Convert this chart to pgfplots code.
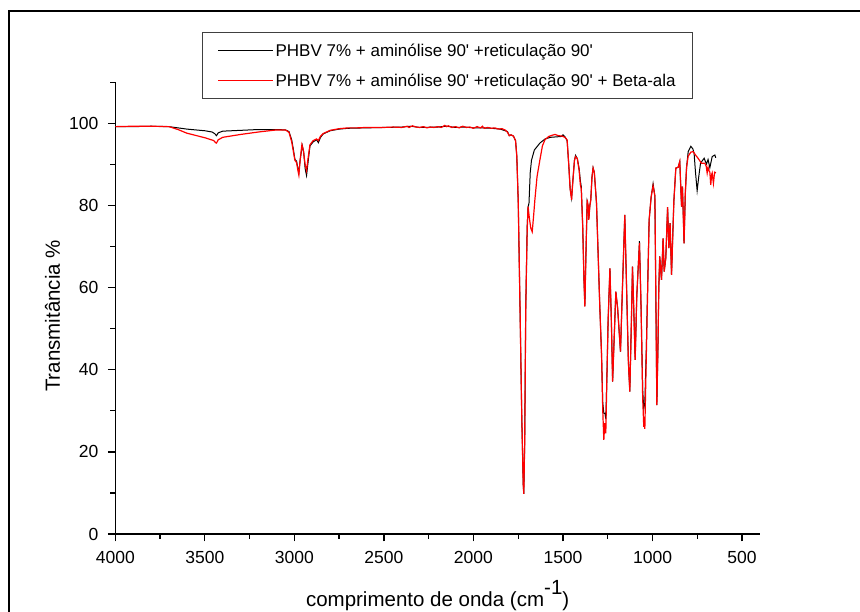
\documentclass[border=0pt]{standalone}
\usepackage{fontspec}
\setmainfont{Liberation Sans}
\usepackage{pgfplots}
\pgfplotsset{compat=1.18}
\usepackage{pgfplotstable}

\pgfplotstableread{
wn T
4000 99.2
3900 99.2
3800 99.3
3700 99.2
3600 98.6
3500 98.2
3460 97.9
3445 97.5
3435 97.0
3425 97.7
3400 98.1
3300 98.3
3200 98.5
3100 98.5
3050 98.4
3030 98.0
3015 96.0
3005 93.5
2997 91.2
2988 90.8
2980 89.0
2975 88.0
2968 91.0
2956 94.6
2948 93.0
2940 89.0
2932 87.3
2925 90.0
2913 94.5
2895 95.5
2876 96.0
2866 95.3
2855 96.5
2840 97.4
2800 98.2
2750 98.6
2700 98.8
2600 98.9
2500 99.0
2400 99.1
2350 99.3
2300 99.0
2200 99.1
2150 99.3
2100 99.0
2050 99.1
2000 98.9
1950 98.9
1900 98.8
1850 98.6
1810 98.0
1800 97.0
1790 97.2
1777 96.9
1765 95.8
1758 92.0
1750 81.0
1740 55.0
1730 28.0
1722 12.0
1719 9.8
1714 22.0
1708 55.0
1700 75.0
1695 79.7
1690 80.5
1683 88.0
1676 91.0
1660 93.5
1629 95.2
1600 96.2
1570 96.6
1540 96.7
1510 96.8
1500 97.2
1490 96.8
1477 95.8
1468 90.0
1460 84.0
1452 81.8
1445 86.0
1436 91.0
1430 92.2
1420 91.4
1410 89.0
1403 86.0
1398 84.6
1390 75.0
1383 62.0
1378 55.5
1372 68.0
1365 81.0
1360 80.0
1356 76.8
1350 80.0
1345 81.4
1338 87.0
1332 89.2
1325 88.0
1313 80.6
1304 68.4
1295 56.0
1285 44.0
1278 32.0
1272 29.4
1266 29.4
1261 28.0
1255 38.0
1248 52.1
1238 64.7
1230 52.0
1223 37.1
1214 48.0
1205 59.0
1195 55.0
1179 44.4
1168 60.0
1155 77.7
1145 60.0
1135 42.0
1127 34.7
1118 52.0
1112 65.1
1105 55.0
1097 42.4
1088 58.0
1073 71.3
1064 55.0
1055 35.0
1049 30.5
1043 32.0
1035 45.0
1025 65.0
1019 76.5
1008 82.0
997 85.3
987 82.3
982 60.0
976 31.4
970 45.0
965 60.0
960 67.6
950 61.9
941 72.0
935 63.9
926 67.2
916 79.6
909 69.6
902 75.7
894 63.1
881 81.0
870 89.1
857 89.3
848 90.7
838 79.7
833 84.6
824 70.8
817 83.0
810 89.3
801 93.1
786 94.4
775 93.8
768 92.7
760 88.0
751 83.6
742 87.0
732 90.3
712 91.5
699 90.1
690 91.2
680 89.2
667 91.9
652 92.3
647 91.6
}\blackdata

\pgfplotstableread{
wn T
4000 99.2
3900 99.3
3800 99.3
3700 99.2
3650 98.5
3600 97.6
3500 96.5
3450 95.8
3440 95.3
3435 95.2
3425 96.0
3400 96.6
3300 97.3
3200 97.9
3100 98.4
3050 98.4
3030 97.8
3015 95.5
3005 93.0
2997 91.0
2988 90.5
2980 88.5
2975 87.4
2968 91.0
2958 94.8
2950 93.5
2940 90.0
2932 88.5
2925 91.0
2913 94.8
2895 95.8
2876 96.2
2866 95.8
2855 96.8
2840 97.5
2800 98.3
2750 98.7
2700 98.9
2650 98.9
2600 99.0
2550 99.0
2500 99.0
2450 99.1
2400 99.0
2370 99.3
2360 99.0
2340 99.4
2320 99.1
2300 99.0
2280 99.2
2260 98.9
2240 99.1
2220 99.0
2200 99.2
2180 99.0
2160 99.5
2150 99.2
2140 99.4
2120 99.0
2100 99.2
2080 98.9
2060 99.3
2040 99.0
2020 99.1
2000 98.8
1980 99.2
1960 98.9
1950 99.3
1940 98.8
1920 99.0
1900 98.8
1880 98.9
1860 98.6
1840 98.7
1820 98.3
1810 97.8
1800 97.0
1790 97.2
1777 96.9
1765 95.8
1758 92.0
1750 81.0
1740 55.0
1730 28.0
1722 12.0
1719 9.8
1714 22.0
1708 55.0
1700 74.0
1695 79.7
1688 77.0
1680 74.5
1672 73.6
1665 77.0
1657 81.4
1645 87.0
1629 91.1
1615 94.5
1601 96.0
1580 96.8
1560 97.1
1545 97.3
1525 97.0
1505 96.9
1490 96.6
1477 96.0
1468 90.0
1460 84.0
1452 81.4
1445 86.0
1436 91.0
1430 91.9
1420 91.4
1410 88.5
1403 85.0
1398 84.0
1390 75.0
1383 62.0
1378 55.4
1372 68.0
1365 81.4
1360 80.0
1356 76.5
1350 80.0
1345 81.2
1338 87.0
1332 89.1
1325 88.0
1313 80.6
1304 68.4
1295 56.0
1285 44.0
1278 30.0
1272 22.9
1267 27.0
1261 24.5
1255 38.0
1248 52.1
1238 64.7
1230 52.0
1223 37.1
1214 48.0
1205 59.0
1195 55.0
1179 44.4
1168 60.0
1155 77.7
1145 60.0
1135 42.0
1127 34.7
1118 52.0
1112 65.1
1105 55.0
1097 42.4
1088 58.0
1073 70.8
1064 55.0
1055 33.0
1049 26.1
1046 28.0
1043 25.6
1035 43.0
1025 64.0
1019 76.5
1008 82.0
997 84.8
987 82.3
982 60.0
976 31.4
970 45.0
965 60.0
960 67.6
950 61.9
941 72.0
935 63.9
926 67.2
916 79.6
909 69.6
902 75.7
894 63.1
881 81.0
870 89.1
857 89.3
848 90.7
838 79.7
833 84.6
824 70.8
817 83.0
810 89.3
801 92.0
786 93.0
773 93.1
760 92.3
746 91.5
727 90.3
708 90.3
700 89.5
695 87.9
690 89.3
685 88.5
680 88.1
675 85.0
670 87.5
667 87.9
660 85.4
655 87.5
652 88.1
647 87.9
}\reddata

\begin{document}
\begin{tikzpicture}[x=1pt,y=1pt]
\useasboundingbox (0,0) rectangle (860,612);
\fill[white] (0,0) rectangle (860,612);
\draw[line width=1.4pt] (9,-20) -- (9,601) -- (900,601);
\begin{axis}[
  at={(115.3pt,78pt)}, anchor=south west,
  width=644.7pt, height=451.7pt, scale only axis,
  x dir=reverse, xmin=400, xmax=4000, ymin=0, ymax=110,
  axis x line*=bottom, axis y line*=left,
  axis line style={line width=1.3pt, -},
  xtick={500,1000,...,4000}, minor xtick={750,1250,...,3750},
  ytick={0,20,...,100}, minor ytick={10,30,...,110},
  tick align=outside, major tick length=7.5pt, minor tick length=5pt,
  every tick/.style={line width=1.3pt, black},
  tick label style={font=\fontsize{17.5}{17.5}\selectfont},
  xticklabel style={yshift=-6pt},
  yticklabel style={xshift=-6pt},
  /pgf/number format/assume math mode=true,
  /pgf/number format/1000 sep={},
  xlabel={comprimento de onda (cm\raisebox{0.6em}{-1})},
  ylabel={Transmitância \%},
  xlabel style={at={(axis description cs:0.5,-0.1616)}, anchor=base, font=\fontsize{20.5}{20.5}\selectfont},
  ylabel style={at={(axis description cs:-0.0858,0.4826)}, anchor=base, font=\fontsize{20.5}{20.5}\selectfont},
  legend style={at={(0.1345,1.111)}, anchor=north west, draw=black!75, line width=0.8pt,
    font=\fontsize{17}{17}\selectfont, inner xsep=15pt, inner ysep=9pt, row sep=12pt},
  legend cell align=left,
  legend image code/.code={\draw[#1, line width=1.2pt] (0pt,0pt) -- (52pt,0pt); \path (0pt,0pt) -- (55pt,0pt);},
]
\addplot[black, line width=1.0pt] table[x=wn,y=T] {\blackdata};
\addlegendentry{PHBV 7\% + aminólise 90\textquotesingle{} +reticulação 90\textquotesingle}
\addplot[red, line width=1.2pt] table[x=wn,y=T] {\reddata};
\addlegendentry{PHBV 7\% + aminólise 90\textquotesingle{} +reticulação 90\textquotesingle{} + Beta-ala}
\end{axis}
\end{tikzpicture}
\end{document}
